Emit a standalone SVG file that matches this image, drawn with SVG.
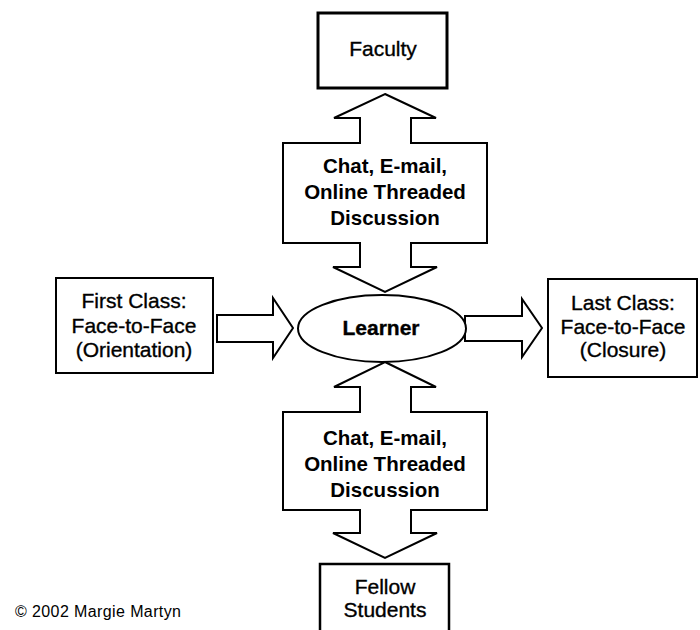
<svg xmlns="http://www.w3.org/2000/svg" width="700" height="630" viewBox="0 0 700 630">
<style>
.box{fill:#fff;stroke:#000;stroke-width:2}
.arrow{fill:#fff;stroke:#000;stroke-width:2;stroke-linejoin:miter}
.t{font-family:"Liberation Sans",Arial,sans-serif;font-size:21px;text-anchor:middle;fill:#000;stroke:#000;stroke-width:0.35}
.b{font-weight:bold;font-size:20.5px;stroke-width:0}
.copy{font-family:"Liberation Sans",Arial,sans-serif;font-size:16px;fill:#000}
</style>
<rect width="700" height="630" fill="#fff"/>
<g id="connectors">
<path id="callout-top" class="arrow" d="M385,94 L436,118 L411,118 L411,143 L487,143 L487,243 L411,243 L411,267 L437,267 L385,292 L333,267 L360,267 L360,243 L283,243 L283,143 L360,143 L360,118 L334,118 Z"/>
<path id="callout-bottom" class="arrow" d="M385,362 L436,387 L411,387 L411,412 L487,412 L487,510 L411,510 L411,533 L437,533 L385,558 L333,533 L360,533 L360,510 L283,510 L283,412 L360,412 L360,387 L334,387 Z"/>
<path id="arrow-left" class="arrow" d="M217,315 L273,315 L273,298 L293,328 L273,358 L273,342 L217,342 Z"/>
<path id="arrow-right" class="arrow" d="M465,316 L522,316 L522,299 L542,328 L522,357 L522,341 L465,341 Z"/>
<text class="t b" x="385" y="173">Chat, E-mail,</text>
<text class="t b" x="385" y="199">Online Threaded</text>
<text class="t b" x="385" y="225">Discussion</text>
<text class="t b" x="385" y="445">Chat, E-mail,</text>
<text class="t b" x="385" y="471">Online Threaded</text>
<text class="t b" x="385" y="497">Discussion</text>
</g>
<g id="faculty">
<rect x="318" y="13" width="129" height="75" fill="#fff" stroke="#000" stroke-width="3"/>
<text class="t" x="383" y="56">Faculty</text>
</g>
<g id="learner">
<ellipse cx="382" cy="328.5" rx="84" ry="33.5" class="box"/>
<text class="t" x="381" y="335" font-weight="bold">Learner</text>
</g>
<g id="first-class">
<rect x="56" y="278" width="157" height="95" class="box"/>
<text class="t" x="134" y="308">First Class:</text>
<text class="t" x="134" y="333">Face-to-Face</text>
<text class="t" x="134" y="357">(Orientation)</text>
</g>
<g id="last-class">
<rect x="548" y="279" width="149" height="98" class="box"/>
<text class="t" x="623" y="310">Last Class:</text>
<text class="t" x="623" y="334">Face-to-Face</text>
<text class="t" x="623" y="357">(Closure)</text>
</g>
<g id="fellow-students">
<rect x="320" y="564" width="129" height="80" fill="#fff" stroke="#000" stroke-width="2.5"/>
<text class="t" x="385" y="594">Fellow</text>
<text class="t" x="385" y="617">Students</text>
</g>
<text class="copy" x="15" y="617" textLength="166" lengthAdjust="spacing">© 2002 Margie Martyn</text>
</svg>
